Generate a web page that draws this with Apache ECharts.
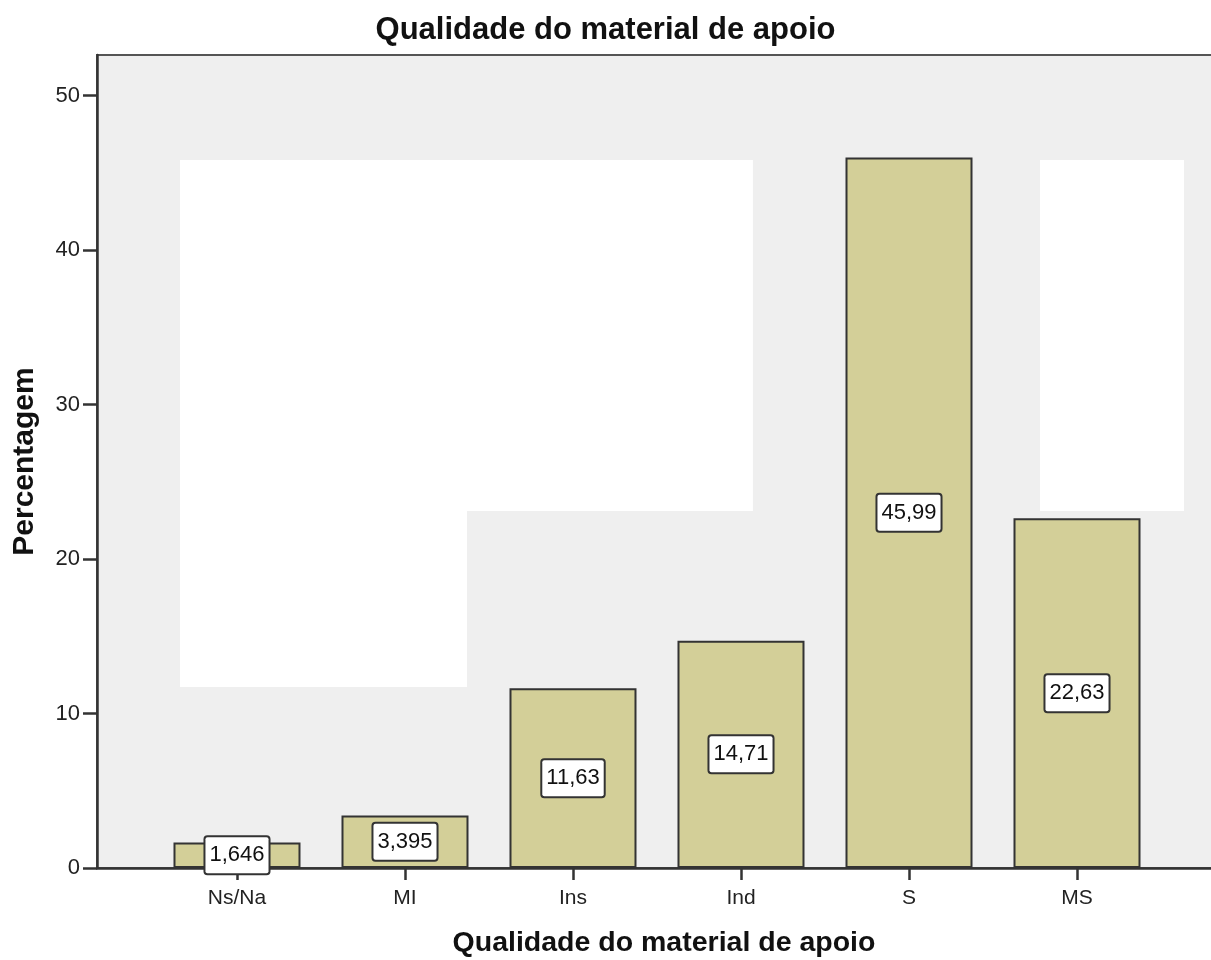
<!DOCTYPE html>
<html>
<head>
<meta charset="utf-8">
<script src="https://cdn.jsdelivr.net/npm/echarts@6/dist/echarts.min.js"></script>
<style>
html,body{margin:0;padding:0;background:#fff;}
#chart{width:1211px;height:960px;}
</style>
</head>
<body>
<div id="chart"></div>
<script>
// ---- data ----
const categories = ['Ns/Na', 'MI', 'Ins', 'Ind', 'S', 'MS'];
const percentages = [1.646, 3.395, 11.63, 14.71, 45.99, 22.63];
const yTicks = [0, 10, 20, 30, 40, 50];
const chartTitle = 'Qualidade do material de apoio';
const xTitle = 'Qualidade do material de apoio';
const yTitle = 'Percentagem';

const FONT = '"Liberation Sans", Arial, sans-serif';
const chart = echarts.init(document.getElementById('chart'), null, {renderer: 'canvas'});

// white background patches present in the original rendering (data coordinates)
const patches = [
  [[-0.339, 45.83], [1.369, 11.72]],
  [[1.369, 45.83], [3.071, 23.11]],
  [[4.780, 45.83], [5.637, 23.11]]
];

const option = {
  backgroundColor: '#ffffff',
  animation: false,
  title: {
    text: chartTitle,
    left: 'center',
    top: 10,
    textStyle: {fontFamily: FONT, fontSize: 31, fontWeight: 'bold', color: '#111'}
  },
  grid: {
    left: 97, right: -2, top: 55, bottom: 92,
    outerBoundsMode: 'none',
    containLabel: false,
    show: true,
    backgroundColor: '#efefef',
    borderColor: '#555',
    borderWidth: 2
  },
  xAxis: {
    type: 'value',
    min: -0.8333,
    max: 5.8095,
    name: xTitle,
    nameLocation: 'middle',
    nameGap: 61,
    nameTextStyle: {fontFamily: FONT, fontSize: 28.5, fontWeight: 'bold', color: '#111', padding: [0, 0, 0, 18]},
    splitLine: {show: false},
    axisLine: {show: true, onZero: false, lineStyle: {color: '#333', width: 2.5}},
    axisTick: {show: true, length: 12, customValues: categories.map((c, i) => i), lineStyle: {color: '#333', width: 2.5}},
    axisLabel: {
      customValues: categories.map((c, i) => i),
      formatter: v => categories[Math.round(v)] || '',
      margin: 20,
      fontFamily: FONT, fontSize: 21, color: '#222'
    }
  },
  yAxis: {
    type: 'value',
    min: 0,
    max: 52.62,
    name: yTitle,
    nameLocation: 'middle',
    nameRotate: 90,
    nameGap: 57,
    nameTextStyle: {fontFamily: FONT, fontSize: 30, fontWeight: 'bold', color: '#111'},
    splitLine: {show: false},
    axisLine: {show: true, onZero: false, lineStyle: {color: '#333', width: 2.5}},
    axisTick: {show: true, length: 14, customValues: yTicks, lineStyle: {color: '#333', width: 2.5}},
    axisLabel: {
      customValues: yTicks,
      margin: 17,
      fontFamily: FONT, fontSize: 22, color: '#222'
    }
  },
  series: [
    {
      type: 'line',
      data: [],
      z: 1,
      silent: true,
      markArea: {
        silent: true,
        itemStyle: {color: '#ffffff', borderWidth: 0},
        label: {show: false},
        data: patches.map(p => [{coord: p[0]}, {coord: p[1]}])
      }
    },
    {
      type: 'bar',
      z: 3,
      barWidth: 127,
      data: percentages.map((v, i) => [i, v]),
      itemStyle: {color: '#d3cf98', borderColor: '#333', borderWidth: 2},
      label: {
        show: true,
        position: 'inside',
        formatter: p => String(p.value[1]).replace('.', ','),
        fontFamily: FONT,
        fontSize: 22,
        color: '#111',
        backgroundColor: '#ffffff',
        borderColor: '#333',
        borderWidth: 2,
        borderRadius: 2,
        padding: [8, 4, 6, 4]
      }
    }
  ]
};
chart.setOption(option);
</script>
</body>
</html>
